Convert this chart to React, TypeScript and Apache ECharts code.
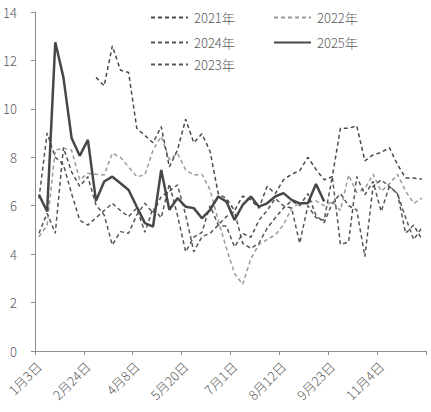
import React, { useEffect, useRef } from "react";
import * as echarts from "echarts";

// Weekly categories (tick labels shown every 6th entry)
const categories = [
  "1月3日", "1月10日", "1月17日", "1月24日", "2月10日", "2月17日",
  "2月24日", "3月3日", "3月10日", "3月17日", "3月24日", "3月31日",
  "4月8日", "4月15日", "4月22日", "4月29日", "5月6日", "5月13日",
  "5月20日", "5月27日", "6月3日", "6月10日", "6月17日", "6月24日",
  "7月1日", "7月8日", "7月15日", "7月22日", "7月29日", "8月5日",
  "8月12日", "8月19日", "8月26日", "9月2日", "9月9日", "9月16日",
  "9月23日", "9月30日", "10月7日", "10月14日", "10月21日", "10月28日",
  "11月4日", "11月11日", "11月18日", "11月25日", "12月2日", "12月9日",
];

const s2021 = [
  null, null, null, null, null, null, null,
  11.3, 10.95, 12.6, 11.6, 11.5, 9.2, 8.9, 8.6, 9.27, 7.6, 8.3, 9.57, 8.6,
  8.97, 8.24, 6.5, 6.3, 5.8, 6.4, 6.24, 5.9, 6.8, 6.5, 7.07, 7.3, 7.45, 8.0,
  7.5, 7.07, 7.2, 9.2, 9.2, 9.3, 7.85, 8.1, 8.2, 8.4, 7.7, 7.14, 7.14, 7.1,
];

const s2022 = [
  4.72, 5.2, 8.3, 8.37, 8.3, 7.07, 7.34, 7.3, 7.27, 8.17, 8.0, 7.6, 7.2, 7.27,
  8.3, 8.86, 7.9, 8.17, 7.48, 7.27, 7.3, 6.65, 5.4, 4.25, 3.2, 2.75, 3.8, 4.4,
  4.6, 4.8, 5.2, 5.9, 6.1, 6.15, 6.2, 6.0, 6.17, 5.8, 7.27, 6.55, 6.7, 7.3,
  6.6, 6.9, 7.3, 6.6, 6.1, 6.31,
];

const s2024 = [
  4.86, 5.69, 4.86, 8.4, 7.4, 6.8, 7.2, 6.03, 5.62, 4.38, 4.93, 4.86, 5.62,
  6.1, 5.7, 6.38, 6.6, 6.86, 5.62, 4.1, 4.72, 4.86, 5.2, 5.55, 5.76, 4.45,
  4.24, 4.45, 5.07, 5.5, 5.9, 6.2, 6.0, 6.5, 5.6, 5.3, 6.1, 6.5, 6.0, 5.83,
  3.9, 6.8, 7.07, 6.79, 6.5, 5.5, 4.6, 5.1,
];

const s2025 = [
  6.45, 5.76, 12.75, 11.3, 8.8, 8.06, 8.72, 6.2, 7.0, 7.2, 6.93, 6.65, 5.96,
  5.28, 5.14, 7.48, 5.83, 6.31, 5.96, 5.9, 5.48, 5.83, 6.38, 6.17, 5.41, 6.03,
  6.38, 5.96, 6.1, 6.38, 6.52, 6.24, 6.1, 6.1, 6.9, 6.17,
];

const s2023 = [
  6.3, 9.0, 8.0, 7.7, 6.5, 5.4, 5.2, 5.5, 5.8, 6.1, 5.8, 5.55, 5.9, 4.9, 5.9,
  5.5, 6.9, 5.6, 4.1, 4.7, 4.9, 6.0, 5.2, 5.15, 4.3, 4.85, 4.7, 5.4, 5.8, 6.3,
  6.0, 5.9, 4.45, 6.0, 5.5, 5.4, 7.2, 4.4, 4.5, 7.2, 6.45, 7.0, 5.76, 6.8, 6.5,
  4.86, 5.2, 4.6,
];

const FONT = "'Noto Sans CJK SC', 'Noto Sans', sans-serif";
const TEXT = "#595959";
const AXIS = "#8c8c8c";

function lineSeries(
  name: string,
  data: (number | null)[],
  color: string,
  width: number,
  dashed: boolean,
  z: number
) {
  return {
    name,
    type: "line",
    data,
    symbol: "none",
    showSymbol: false,
    connectNulls: false,
    z,
    itemStyle: { color },
    lineStyle: { color, width, type: dashed ? [4, 3] : "solid" },
  };
}

function legendAt(name: string, left: number, top: number) {
  return {
    data: [name],
    left,
    top,
    padding: 0,
    itemWidth: 37,
    itemHeight: 14,
    itemGap: 0,
    selectedMode: false,
    itemStyle: { opacity: 0 },
    textStyle: {
      fontSize: 13,
      color: TEXT,
      fontFamily: FONT,
      fontWeight: 300,
      padding: [0, 0, 0, 1],
    },
  };
}

export default function App() {
  const ref = useRef<HTMLDivElement>(null);

  useEffect(() => {
    if (!ref.current) return;
    const chart = echarts.init(ref.current, undefined, { renderer: "svg" });
    chart.setOption({
      animation: false,
      backgroundColor: "#ffffff",
      textStyle: { fontFamily: FONT },
      legend: [
        legendAt("2021年", 150, 11),
        legendAt("2022年", 273, 11),
        legendAt("2024年", 150, 36),
        legendAt("2025年", 273, 36),
        legendAt("2023年", 150, 58),
      ],
      grid: { left: 34, top: 12, right: 5, bottom: 61, containLabel: false },
      xAxis: {
        type: "category",
        data: categories,
        boundaryGap: true,
        axisLine: { show: true, lineStyle: { color: AXIS, width: 1 } },
        axisTick: { show: true, interval: 5, length: 4, lineStyle: { color: AXIS } },
        axisLabel: {
          interval: 5,
          rotate: 45,
          fontSize: 13,
          fontWeight: 300,
          color: TEXT,
          fontFamily: FONT,
          margin: 13,
        },
        splitLine: { show: false },
      },
      yAxis: {
        type: "value",
        min: 0,
        max: 14,
        interval: 2,
        axisLine: { show: true, lineStyle: { color: AXIS, width: 1 } },
        axisTick: { show: true, length: 4, lineStyle: { color: AXIS } },
        axisLabel: {
          fontSize: 13,
          fontWeight: 300,
          color: TEXT,
          fontFamily: FONT,
          margin: 18,
        },
        splitLine: { show: false },
      },
      series: [
        lineSeries("2021年", s2021, "#4a4a4a", 1.5, true, 3),
        lineSeries("2022年", s2022, "#9a9a9a", 1.5, true, 2),
        lineSeries("2024年", s2024, "#555555", 1.5, true, 3),
        lineSeries("2025年", s2025, "#474747", 2.5, false, 5),
        lineSeries("2023年", s2023, "#555555", 1.5, true, 3),
      ],
    });
    return () => chart.dispose();
  }, []);

  return (
    <div
      ref={ref}
      style={{ position: "fixed", left: 0, top: 0, width: 431, height: 412, background: "#fff" }}
    />
  );
}
